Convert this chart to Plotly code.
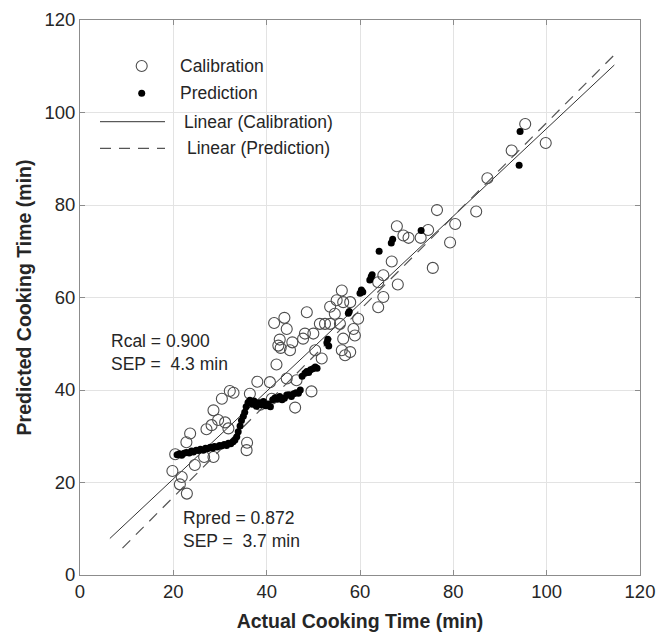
import plotly.graph_objects as go

# ---------------- data ----------------
cal_x = [19.8, 20.4, 21.4, 21.8, 22.9, 22.8, 23.6, 24.6, 26.6, 28.6, 27.1, 28.2, 28.6, 29.6,
         31.1, 31.8, 30.4, 32.1, 32.9, 35.7, 35.8, 36.4, 38.0, 40.7, 41.1, 38.6, 42.1, 42.5,
         42.8, 43.0, 41.6, 43.8, 44.3, 44.3, 45.0, 45.5, 46.4, 46.1, 47.8, 48.2, 48.6, 49.6,
         50.0, 50.4, 51.4, 51.8, 52.5, 53.6, 53.6, 54.6, 55.7, 55.0, 56.4, 57.9, 56.1, 56.4,
         56.1, 56.8, 57.9, 58.6, 58.9, 59.6, 63.9, 65.0, 63.9, 65.0, 66.8, 68.1, 67.9, 69.3,
         70.4, 73.0, 74.6, 75.6, 76.5, 79.3, 80.4, 84.9, 87.3, 92.5, 95.4, 99.8]
cal_y = [22.5, 26.1, 19.6, 21.2, 17.6, 28.7, 30.6, 23.8, 25.5, 25.5, 31.5, 32.4, 35.6, 33.5,
         33.0, 31.7, 38.1, 39.8, 39.4, 27.0, 28.6, 39.2, 41.8, 41.7, 38.1, 36.8, 45.5, 49.6,
         50.9, 49.1, 54.5, 55.6, 53.2, 42.5, 48.6, 50.3, 42.1, 36.2, 51.1, 52.2, 56.8, 39.7,
         52.2, 48.6, 54.3, 46.8, 54.3, 54.3, 58.0, 56.5, 54.3, 59.4, 59.0, 59.0, 61.5, 51.1,
         48.6, 47.5, 48.2, 53.2, 51.8, 55.4, 57.9, 60.1, 63.3, 64.8, 67.8, 62.8, 75.4, 73.4,
         72.9, 72.9, 74.6, 66.4, 78.9, 71.9, 75.9, 78.6, 85.8, 91.8, 97.5, 93.4]

pred_x = [20.8, 21.3, 21.8, 22.3, 22.8, 23.4, 23.9, 24.3, 24.9, 25.4, 25.8, 26.4, 26.9, 27.3,
          27.9, 28.4, 28.8, 29.4, 29.9, 30.3, 30.9, 31.4, 31.8, 32.3, 32.8, 33.2,
          33.6, 33.9, 34.3, 34.6, 35.0, 35.3, 35.6, 36.0,
          36.4, 36.9, 37.3, 37.8, 38.3, 38.8, 39.3, 39.8, 40.3, 40.8, 41.3, 41.8, 42.3, 42.8,
          43.3, 43.8, 44.3, 44.8, 45.3, 45.8, 46.3, 46.8, 47.2,
          47.6, 48.2, 48.6, 49.0, 49.4, 49.9, 50.4, 50.8,
          52.9, 53.1, 53.3, 57.5, 57.7, 60.0, 60.3, 60.6, 62.1, 62.4, 62.6, 64.1, 66.7, 67.0,
          73.1, 94.1, 94.3]
pred_y = [26.0, 26.2, 25.9, 26.3, 26.5, 26.4, 26.8, 26.6, 27.0, 26.9, 27.2, 27.0, 27.4, 27.3,
          27.6, 27.4, 27.8, 27.7, 28.0, 27.9, 28.2, 28.0, 28.5, 28.4, 28.8, 29.2,
          29.9, 31.0, 32.2, 33.4, 34.3, 35.2, 36.4, 37.3,
          37.8, 36.9, 37.6, 36.5, 37.2, 36.8, 37.5, 36.6, 37.0, 36.4, 37.9, 38.3, 38.0, 38.6,
          37.9, 38.2, 38.9, 39.0, 38.6, 39.2, 39.4, 39.3, 40.0,
          43.0, 43.6, 44.0, 43.8, 44.4, 44.6, 45.0, 44.7,
          50.2, 51.0, 49.5, 56.6, 57.0, 60.9, 61.6, 61.2, 63.8, 64.5, 64.9, 70.0, 71.8, 72.6,
          74.5, 88.6, 95.9]

# linear fits (slope, intercept) and x-range of each fit line
cal_fit = (0.947, 1.84)
cal_fit_range = [6.4, 114.5]
pred_fit = (1.012, -3.4)
pred_fit_range = [9.1, 115.3]

x_ticks = [0, 20, 40, 60, 80, 100, 120]
y_ticks = [0, 20, 40, 60, 80, 100, 120]

FONT = "Liberation Sans, Arial, sans-serif"
TXT = "#262626"

fig = go.Figure()

fig.add_trace(go.Scatter(
    x=cal_fit_range, y=[cal_fit[0] * v + cal_fit[1] for v in cal_fit_range],
    mode="lines", line=dict(color="#333333", width=1), showlegend=False))
fig.add_trace(go.Scatter(
    x=pred_fit_range, y=[pred_fit[0] * v + pred_fit[1] for v in pred_fit_range],
    mode="lines", line=dict(color="#555555", width=1.2, dash="11px,8px"), showlegend=False))

fig.add_trace(go.Scatter(
    x=cal_x, y=cal_y, mode="markers", name="Calibration",
    marker=dict(symbol="circle-open", size=11, color="#4d4d4d", line=dict(width=1.1)),
    showlegend=False))
fig.add_trace(go.Scatter(
    x=pred_x, y=pred_y, mode="markers", name="Prediction",
    marker=dict(symbol="circle", size=7, color="#000000"), showlegend=False))

axis_common = dict(
    showgrid=True, gridcolor="#e3e3e3", gridwidth=1,
    showline=True, linecolor="#8c8c8c", linewidth=1, mirror="ticks",
    ticks="inside", ticklen=5, tickcolor="#8c8c8c",
    tickfont=dict(family=FONT, size=18.5, color=TXT),
    zeroline=False, range=[0, 120], tickvals=x_ticks, automargin=False,
)

fig.update_xaxes(**axis_common,
                 title=dict(text="<b>Actual Cooking Time (min)</b>",
                            font=dict(family=FONT, size=19.5, color=TXT), standoff=13))
fig.update_yaxes(**{**axis_common, "tickvals": y_ticks},
                 title=dict(text="<b>Predicted Cooking Time (min)</b>",
                            font=dict(family=FONT, size=19.5, color=TXT), standoff=7))

# plot area in page pixels: x 80..640, y 20..575
def px2paper(px, py):
    return (px - 80) / 560.0, (575 - py) / 555.0

shapes = []
ann = []
lx, ly = px2paper(141.7, 66)
shapes.append(dict(type="circle", xref="paper", yref="paper", xsizemode="pixel", ysizemode="pixel",
                   xanchor=lx, yanchor=ly, x0=-5.5, x1=5.5, y0=-5.5, y1=5.5,
                   line=dict(color="#4d4d4d", width=1.1)))
lx, ly = px2paper(141.7, 93.3)
shapes.append(dict(type="circle", xref="paper", yref="paper", xsizemode="pixel", ysizemode="pixel",
                   xanchor=lx, yanchor=ly, x0=-3.5, x1=3.5, y0=-3.5, y1=3.5,
                   fillcolor="#000000", line=dict(color="#000000", width=0)))
x0, ly = px2paper(100, 121.7)
x1, _ = px2paper(165, 121.7)
shapes.append(dict(type="line", xref="paper", yref="paper", x0=x0, x1=x1, y0=ly, y1=ly,
                   line=dict(color="#333333", width=1)))
x0, ly = px2paper(100, 148.3)
x1, _ = px2paper(165, 148.3)
shapes.append(dict(type="line", xref="paper", yref="paper", x0=x0, x1=x1, y0=ly, y1=ly,
                   line=dict(color="#555555", width=1.2, dash="11px,8px")))

legend_items = [("Calibration", 178.3, 66), ("Prediction", 178.3, 93.3),
                ("Linear (Calibration)", 181.7, 121.7), ("Linear (Prediction)", 185, 148.3)]
for txt, px, py in legend_items:
    ax_, ay_ = px2paper(px, py)
    ann.append(dict(text=txt, x=ax_, y=ay_, xref="paper", yref="paper", xanchor="left",
                    yanchor="middle", showarrow=False, font=dict(family=FONT, size=17.5, color=TXT)))

ax_, ay_ = px2paper(109.3, 352.5)
ann.append(dict(text="Rcal = 0.900<br>SEP = \u00a04.3 min", x=ax_, y=ay_, xref="paper", yref="paper",
                xanchor="left", yanchor="middle", align="left", showarrow=False,
                font=dict(family=FONT, size=17.5, color=TXT)))
ax_, ay_ = px2paper(180.7, 529)
ann.append(dict(text="Rpred = 0.872<br>SEP = \u00a03.7 min", x=ax_, y=ay_, xref="paper", yref="paper",
                xanchor="left", yanchor="middle", align="left", showarrow=False,
                font=dict(family=FONT, size=17.5, color=TXT)))

fig.update_layout(
    width=659, height=635,
    margin=dict(l=80, r=19, t=20, b=60),
    plot_bgcolor="white", paper_bgcolor="white",
    showlegend=False, shapes=shapes, annotations=ann,
)

# remove the default page margin so the figure fills the window exactly; hide the modebar
fig.write_html("out.html",
               config={"displayModeBar": False},
               post_script="document.body.style.margin='0px';document.body.style.overflow='hidden';")
